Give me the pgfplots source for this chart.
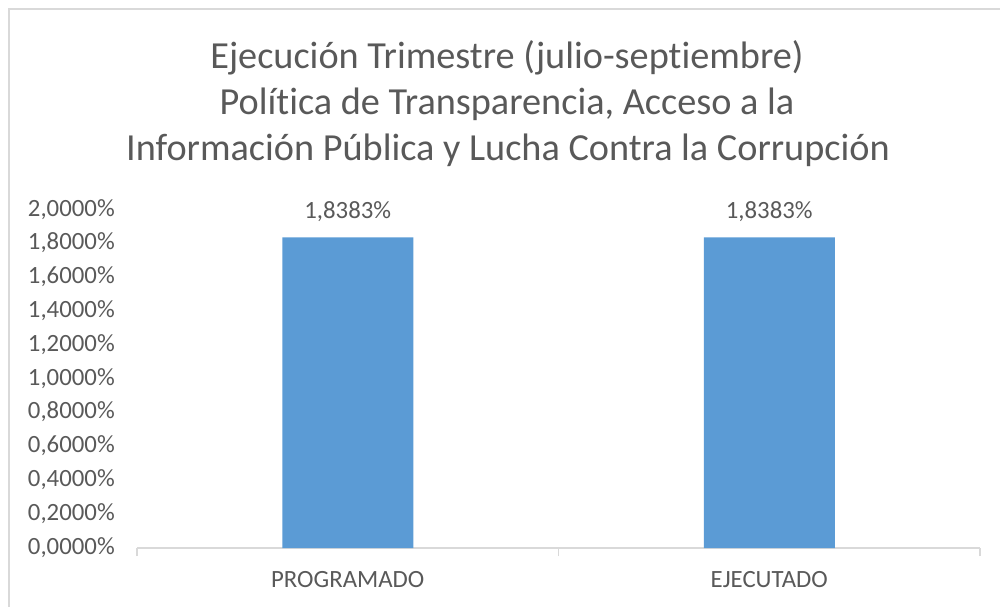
\documentclass[border=0pt]{standalone}
\usepackage{pgfplots}
\pgfplotsset{compat=1.18}
\usepackage{fontspec}
\setmainfont{Carlito}[Ligatures=NoCommon]
\definecolor{txt}{HTML}{595959}
\definecolor{barblue}{HTML}{5B9BD5}
\definecolor{grid}{HTML}{D9D9D9}
\begin{document}
\begin{tikzpicture}[x=0.75pt,y=0.75pt]
\useasboundingbox (0,0) rectangle (1000,607);
\draw[grid,line width=1.2pt] (9,0) -- (9,598) -- (1000,598);
\node[anchor=base,text=txt,font=\fontsize{28.7}{32}\selectfont] at (507,538) {Ejecución Trimestre (julio-septiembre)};
\node[anchor=base,text=txt,font=\fontsize{28.7}{32}\selectfont] at (507,492) {Política de Transparencia, Acceso a la};
\node[anchor=base,text=txt,font=\fontsize{28.7}{32}\selectfont] at (508,446) {Información Pública y Lucha Contra la Corrupción};
\begin{axis}[
  at={(260.8125pt,44.25pt)}, anchor=origin,
  scale only axis, width=632.25pt, height=253.5pt,
  xmin=-0.5, xmax=1.5, ymin=0, ymax=2,
  /pgf/number format/assume math mode=true,
  axis y line=none,
  axis x line*=bottom,
  x axis line style={grid, line width=0.8pt, -},
  ytick={0,0.2,0.4,0.6,0.8,1.0,1.2,1.4,1.6,1.8,2.0},
  xtick={0,1}, xticklabels={PROGRAMADO,EJECUTADO},
  major tick length=0pt,
  extra x ticks={-0.5,0.5,1.5}, extra x tick labels={},
  extra x tick style={major tick length=6pt, tick align=outside, tick style={grid, line width=0.8pt}},
  xticklabel style={anchor=base, inner sep=0pt, yshift=-29.25pt, text=txt, font=\fontsize{18.6}{21}\selectfont},
  ybar, bar width=98.25pt,
  clip=false,
]
\addplot[fill=barblue, draw=none,
  nodes near coords={\pgfmathprintnumber[fixed,fixed zerofill,precision=4,use comma]{\pgfplotspointmeta}\%},
  nodes near coords style={anchor=base, inner sep=0pt, yshift=14.25pt, text=txt, font=\fontsize{18.6}{21}\selectfont},
] coordinates {(0,1.8383) (1,1.8383)};
\pgfplotsinvokeforeach{0,0.2,0.4,0.6,0.8,1.0,1.2,1.4,1.6,1.8,2.0}{
  \node[anchor=base east, inner sep=0pt, text=txt, font=\fontsize{18.6}{21}\selectfont, xshift=-16.5pt, yshift=-4.5pt] at (axis cs:-0.5,#1) {\pgfmathprintnumber[fixed,fixed zerofill,precision=4,use comma]{#1}\%};
}
\end{axis}
\end{tikzpicture}
\end{document}
